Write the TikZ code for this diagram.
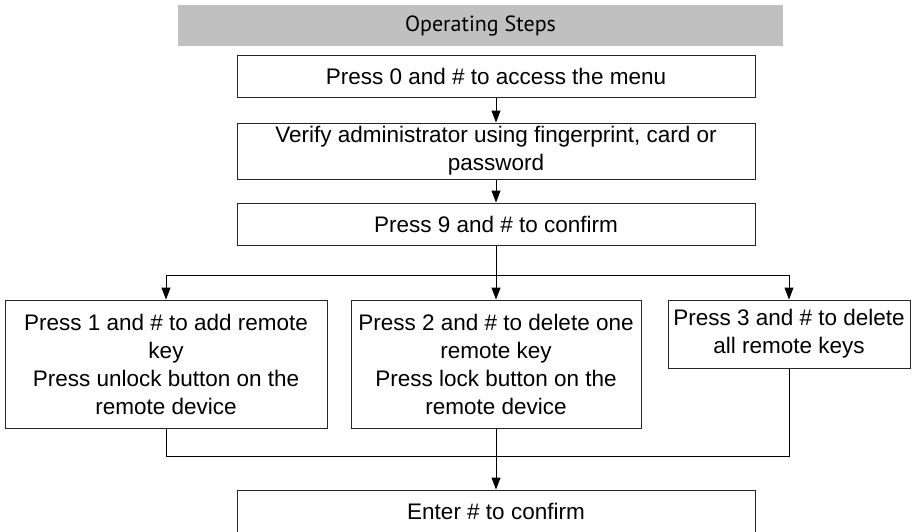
\documentclass[tikz,border=0pt]{standalone}
\usepackage{fontspec}
\setmainfont{Liberation Sans}
\newfontfamily\headfont{PT Sans}
\usetikzlibrary{arrows.meta}

\definecolor{headgray}{HTML}{C0C0C0}

\begin{document}
\begin{tikzpicture}[x=1pt, y=-1pt,
    >={Triangle[length=12pt, width=9pt]},
    stepbox/.style={draw=black!85, line width=1pt, align=center, inner sep=0pt,
        font=\fontsize{22.5}{28}\selectfont},
    link/.style={line width=1pt, black}]

    % Keep the page at the size of the reference
    \useasboundingbox (0,0) rectangle (919,531);

    % Define the width of the main column
    \def\wide{518pt}

    % Heading bar
    \node[fill=headgray, minimum width=605pt, minimum height=41pt, inner sep=0pt,
        font=\headfont\fontsize{22}{26}\selectfont] (head) at (480.5,25.5) {Operating Steps};

    % Main column of steps
    \node[stepbox, minimum width=\wide, minimum height=42pt] (menu) at (496,76) {Press 0 and \# to access the menu};
    \node[stepbox, minimum width=\wide, minimum height=56pt] (verify) at (496,151) {Verify administrator using fingerprint, card or\\password};
    \node[stepbox, minimum width=\wide, minimum height=42pt] (nine) at (496,224) {Press 9 and \# to confirm};

    % The three choices
    \node[stepbox, minimum width=322pt, minimum height=128pt] (add) at (166,364) {Press 1 and \# to add remote\\key\\Press unlock button on the\\remote device};
    \node[stepbox, minimum width=290pt, minimum height=128pt] (delone) at (496,364) {Press 2 and \# to delete one\\remote key\\Press lock button on the\\remote device};
    \node[stepbox, minimum width=242pt, minimum height=68pt] (delall) at (789,334) {Press 3 and \# to delete\\all remote keys};

    % Last step, cut by the page edge
    \node[stepbox, minimum width=\wide, minimum height=42pt] (enter) at (496,511) {Enter \# to confirm};

    % Split and join points
    \coordinate (split) at (496,275);
    \coordinate (join) at (496,456);

    \draw[link, ->] (menu) -- (verify);
    \draw[link, ->] (verify) -- (nine);
    \draw[link] (nine) -- (split);
    \draw[link] (split -| add) -- (split -| delall);
    \draw[link, ->] (split -| add) -- (add);
    \draw[link, ->] (split) -- (delone);
    \draw[link, ->] (split -| delall) -- (delall);
    \draw[link] (add) -- (join -| add) -- (join -| delall) -- (delall);
    \draw[link, ->] (delone) -- (enter);

\end{tikzpicture}
\end{document}
